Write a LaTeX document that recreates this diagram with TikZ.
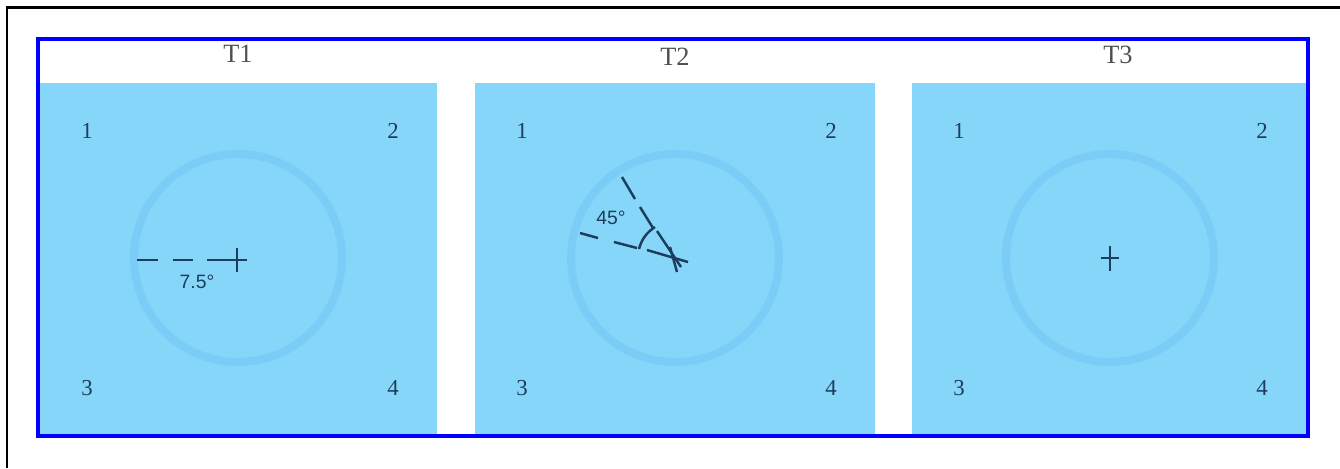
\documentclass[tikz,border=0pt]{standalone}
\usepackage{fontspec}
\setmainfont{Liberation Serif}
\newfontfamily\anglefont{Liberation Sans}

\definecolor{panelblue}{RGB}{134,214,250}
\definecolor{ringblue}{RGB}{123,205,247}
\definecolor{inkblue}{RGB}{28,62,92}
\definecolor{titlegray}{RGB}{80,80,80}
\definecolor{framecol}{RGB}{0,0,255}

\tikzset{
  corner/.style={text=inkblue, font=\fontsize{13}{13}\selectfont},
  paneltitle/.style={text=titlegray, font=\fontsize{15}{15}\selectfont},
  anglelbl/.style={text=inkblue, font=\anglefont\fontsize{11}{11}\selectfont},
  markline/.style={draw=inkblue, line width=1.4pt},
}

\begin{document}
\begin{tikzpicture}[x=0.02cm,y=-0.02cm]
\useasboundingbox (0,0) rectangle (1340,468);
\draw[line width=1.7pt] (7,468) -- (7,7) -- (1340,7);

% the three panels
\foreach \xa/\xb/\cx/\t in {40/437/238/1, 475/875/675/2, 912/1306/1110/3} {
  \fill[panelblue] (\xa,83) rectangle (\xb,436);
  \draw[ringblue, line width=4.5pt] (\cx,258) circle (2.08cm);
  \node[corner] (p\t-1) at (\xa+47,131) {1};
  \node[corner] (p\t-2) at (\xb-44,131) {2};
  \node[corner] (p\t-3) at (\xa+47,388) {3};
  \node[corner] (p\t-4) at (\xb-44,388) {4};
}

\node[paneltitle] (t1) at (238,54) {T1};
\node[paneltitle] (t2) at (675,57) {T2};
\node[paneltitle] (t3) at (1118,55) {T3};

\draw[framecol, line width=2.8pt] (38,39) rectangle (1308,436);

% T1: shifted fixation
\coordinate (c1) at (237,260);
\foreach \a/\b in {137/158, 173/193, 207/247}
  \draw[markline] (\a,260) -- (\b,260);
\draw[markline] (237,248) -- (237,272);
\node[anglelbl] (l1) at (197,282) {7.5°};

% T2: rotated fixation
\coordinate (v2) at (676,259);
\draw[markline] (622,177) -- (635,199);
\draw[markline] (640,207) -- (653,228);
\draw[markline] (657,231) -- (681,267);
\draw[markline] (580,233) -- (598,238);
\draw[markline] (614,242) -- (637,248);
\draw[markline] (647,250) -- (688,262);
\draw[markline] (670,247) -- (677,272);
\draw[markline] (639,249) .. controls (641.6,239.3) and (646.6,232.5) .. (655,227);
\node[anglelbl] (l2) at (611,218) {45°};

% T3: centred fixation
\coordinate (c3) at (1110,258);
\draw[markline] (1101,258) -- (1119,258);
\draw[markline] (1110,246) -- (1110,271);
\end{tikzpicture}
\end{document}
